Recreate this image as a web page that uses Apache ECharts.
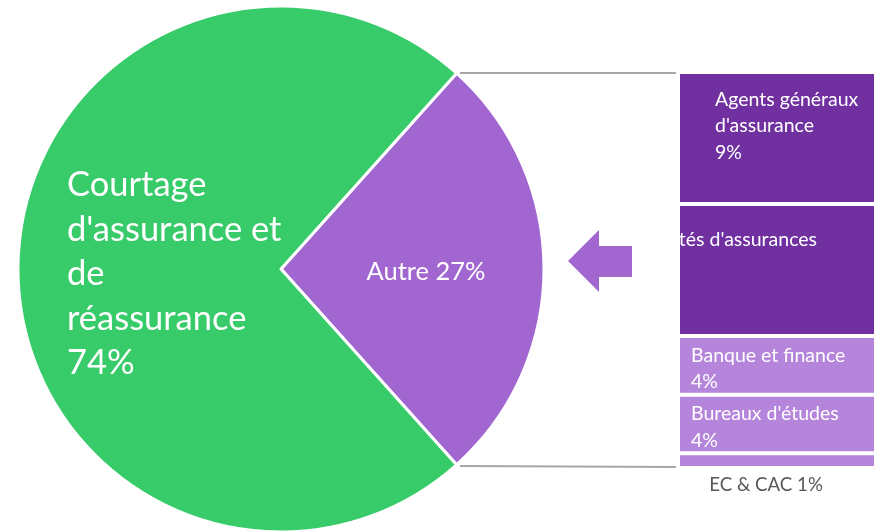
<!DOCTYPE html>
<html>
<head>
<meta charset="utf-8">
<script src="https://cdn.jsdelivr.net/npm/echarts@6/dist/echarts.min.js"></script>
<style>html,body{margin:0;padding:0;background:#fff;}#c{width:881px;height:532px;}</style>
</head>
<body>
<div id="c"></div>
<script>
// Pie data
const pieNames = ["Autre", "Courtage\nd'assurance et\nde\nréassurance"];
const pieValues = [27, 74];
// Breakdown of "Autre"
const barNames = ["Agents généraux\nd'assurance", "Sociétés d'assurances", "Banque et finance", "Bureaux d'études", "EC & CAC"];
const barValues = [9, 9, 4, 4, 1];

const GREEN = '#38CB6A', PURPLE = '#A266D1', DARK = '#7030A0', LIGHT = '#B485DA';
const FONT = 'Lato';
const total = pieValues.reduce((a, b) => a + b, 0);
const barTotal = barValues.reduce((a, b) => a + b, 0);

const barColors = [DARK, DARK, LIGHT, LIGHT, LIGHT];
const barLabelPos = [[37, 14, 'left'], [139, 22, 'right'], [13, 6, 'left'], [13, 6, 'left'], [88, 18, 'center']];

const barSeries = barValues.map((v, i) => {
  const last = i === barValues.length - 1;
  return {
    type: 'bar', stack: 'autre', name: barNames[i],
    data: [v], barWidth: '100%', silent: true,
    itemStyle: { color: barColors[i], borderColor: '#fff', borderWidth: 2 },
    label: {
      show: true,
      position: [barLabelPos[i][0], barLabelPos[i][1]],
      align: barLabelPos[i][2], verticalAlign: 'top',
      formatter: last ? (barNames[i] + ' ' + v + '%') : (barNames[i] + (i === 1 ? '' : '\n' + v + '%')),
      color: last ? '#595959' : '#fff',
      fontFamily: FONT, fontSize: last ? 18.7 : 19.5, lineHeight: 26.5
    }
  };
});

const chart = echarts.init(document.getElementById('c'), null, { renderer: 'canvas' });
chart.setOption({
  backgroundColor: '#fff',
  animation: false,
  grid: { left: 678, top: 72, width: 198, height: 396 },
  xAxis: { type: 'category', data: ['Autre'], show: false },
  yAxis: { type: 'value', min: 0, max: barTotal, inverse: true, show: false },
  series: [
    {
      type: 'pie', center: [281, 269], radius: 263,
      startAngle: pieValues[0] / total * 180,
      clockwise: true, silent: true,
      itemStyle: { borderColor: '#fff', borderWidth: 3 },
      label: {
        show: true, position: 'inside', color: '#fff', fontFamily: FONT,
        formatter: p => p.name + (p.dataIndex === 0 ? ' ' : '\n') + p.value + '%'
      },
      labelLine: { show: false },
      labelLayout: function (p) {
        if (p.dataIndex === 1) return { x: 67, y: 274, align: 'left', verticalAlign: 'middle', fontSize: 34.5 };
        return { x: 426, y: 272, align: 'center', verticalAlign: 'middle', fontSize: 25.5 };
      },
      data: pieValues.map((v, i) => ({
        name: pieNames[i], value: v,
        itemStyle: { color: i === 0 ? PURPLE : GREEN },
        label: i === 1 ? { fontSize: 34.5, lineHeight: 44.5 } : { fontSize: 25.5 }
      }))
    },
    ...barSeries
  ],
  graphic: [
    { type: 'line', shape: { x1: 460, y1: 73, x2: 676, y2: 73 }, style: { stroke: '#A6A6A6', lineWidth: 2 } },
    { type: 'line', shape: { x1: 460, y1: 466, x2: 676, y2: 467 }, style: { stroke: '#A6A6A6', lineWidth: 2 } },
    { type: 'polygon', shape: { points: [[568, 261], [599, 230], [599, 246], [632, 246], [632, 277], [599, 277], [599, 292]] }, style: { fill: PURPLE } }
  ]
});
</script>
</body>
</html>
